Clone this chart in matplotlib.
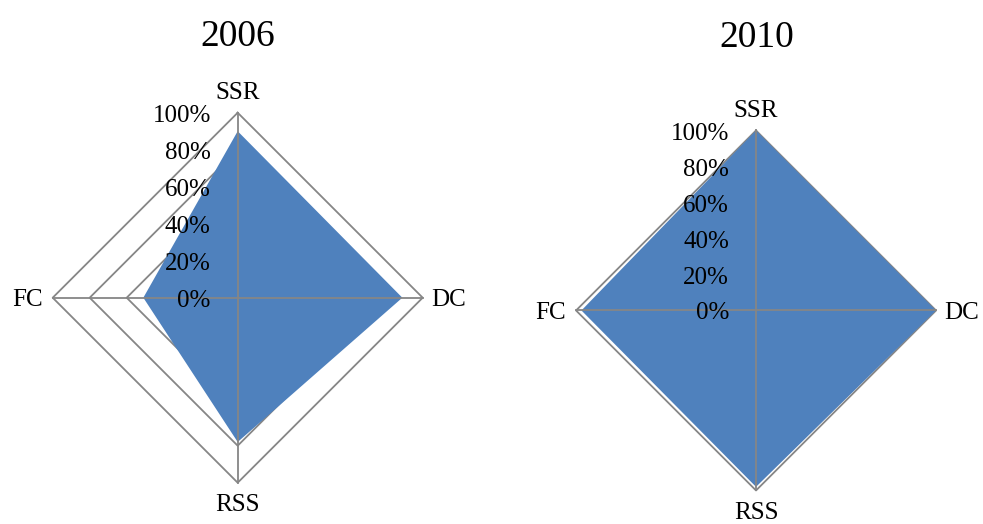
import numpy as np
import matplotlib.pyplot as plt

categories = ['SSR', 'DC', 'RSS', 'FC']
values_2006 = [0.90, 0.89, 0.78, 0.51]
values_2010 = [1.00, 1.00, 0.98, 0.97]
tick_values = [0, 0.2, 0.4, 0.6, 0.8, 1.0]
tick_labels = ['0%', '20%', '40%', '60%', '80%', '100%']

plt.rcParams['font.family'] = ['Liberation Serif', 'DejaVu Serif']

fill_color = '#4F81BD'
grid_color = '#868686'

# label offsets in points: (dx, dy, ha)
label_offsets = [(0, 10, 'center'), (6, -6, 'left'), (0, -20.5, 'center'), (-7, -6, 'right')]

fig = plt.figure(figsize=(9.83, 5.24), dpi=100)


def radar(rect, values, title, title_xy):
	ax = fig.add_axes(rect, projection='polar')
	ax.set_theta_zero_location('N')
	ax.set_theta_direction(-1)
	ax.set_ylim(0, 1)
	ax.axis('off')

	theta = np.deg2rad(np.arange(len(categories)) * 360 / len(categories))
	closed = np.append(theta, theta[0])

	# diamond grid
	for r in tick_values[1:]:
		ax.plot(closed, [r] * len(closed), color=grid_color, lw=1.3, zorder=1, clip_on=False)

	ax.fill(closed, list(values) + [values[0]], color=fill_color, lw=0, zorder=2)

	# spokes on top of the fill
	for t in theta:
		ax.plot([t, t], [0, 1], color=grid_color, lw=1.3, zorder=3, clip_on=False)

	for t, name, (dx, dy, ha) in zip(theta, categories, label_offsets):
		ax.annotate(name, (t, 1), xytext=(dx, dy), textcoords='offset points',
			ha=ha, va='baseline', fontsize=18, zorder=4, annotation_clip=False)

	for r, lab in zip(tick_values, tick_labels):
		ax.annotate(lab, (0, r), xytext=(-19.4, -6.5), textcoords='offset points',
			ha='right', va='baseline', fontsize=18, zorder=4, annotation_clip=False)

	fig.text(title_xy[0], title_xy[1], title, ha='center', va='baseline', fontsize=27)
	return ax


radar([0.0536, 0.0788, 0.3764, 0.7061], values_2006, '2006', (0.2421, 0.912))
radar([0.5860, 0.0640, 0.3662, 0.6870], values_2010, '2010', (0.770, 0.911))

fig.savefig('out.png', dpi=100)
